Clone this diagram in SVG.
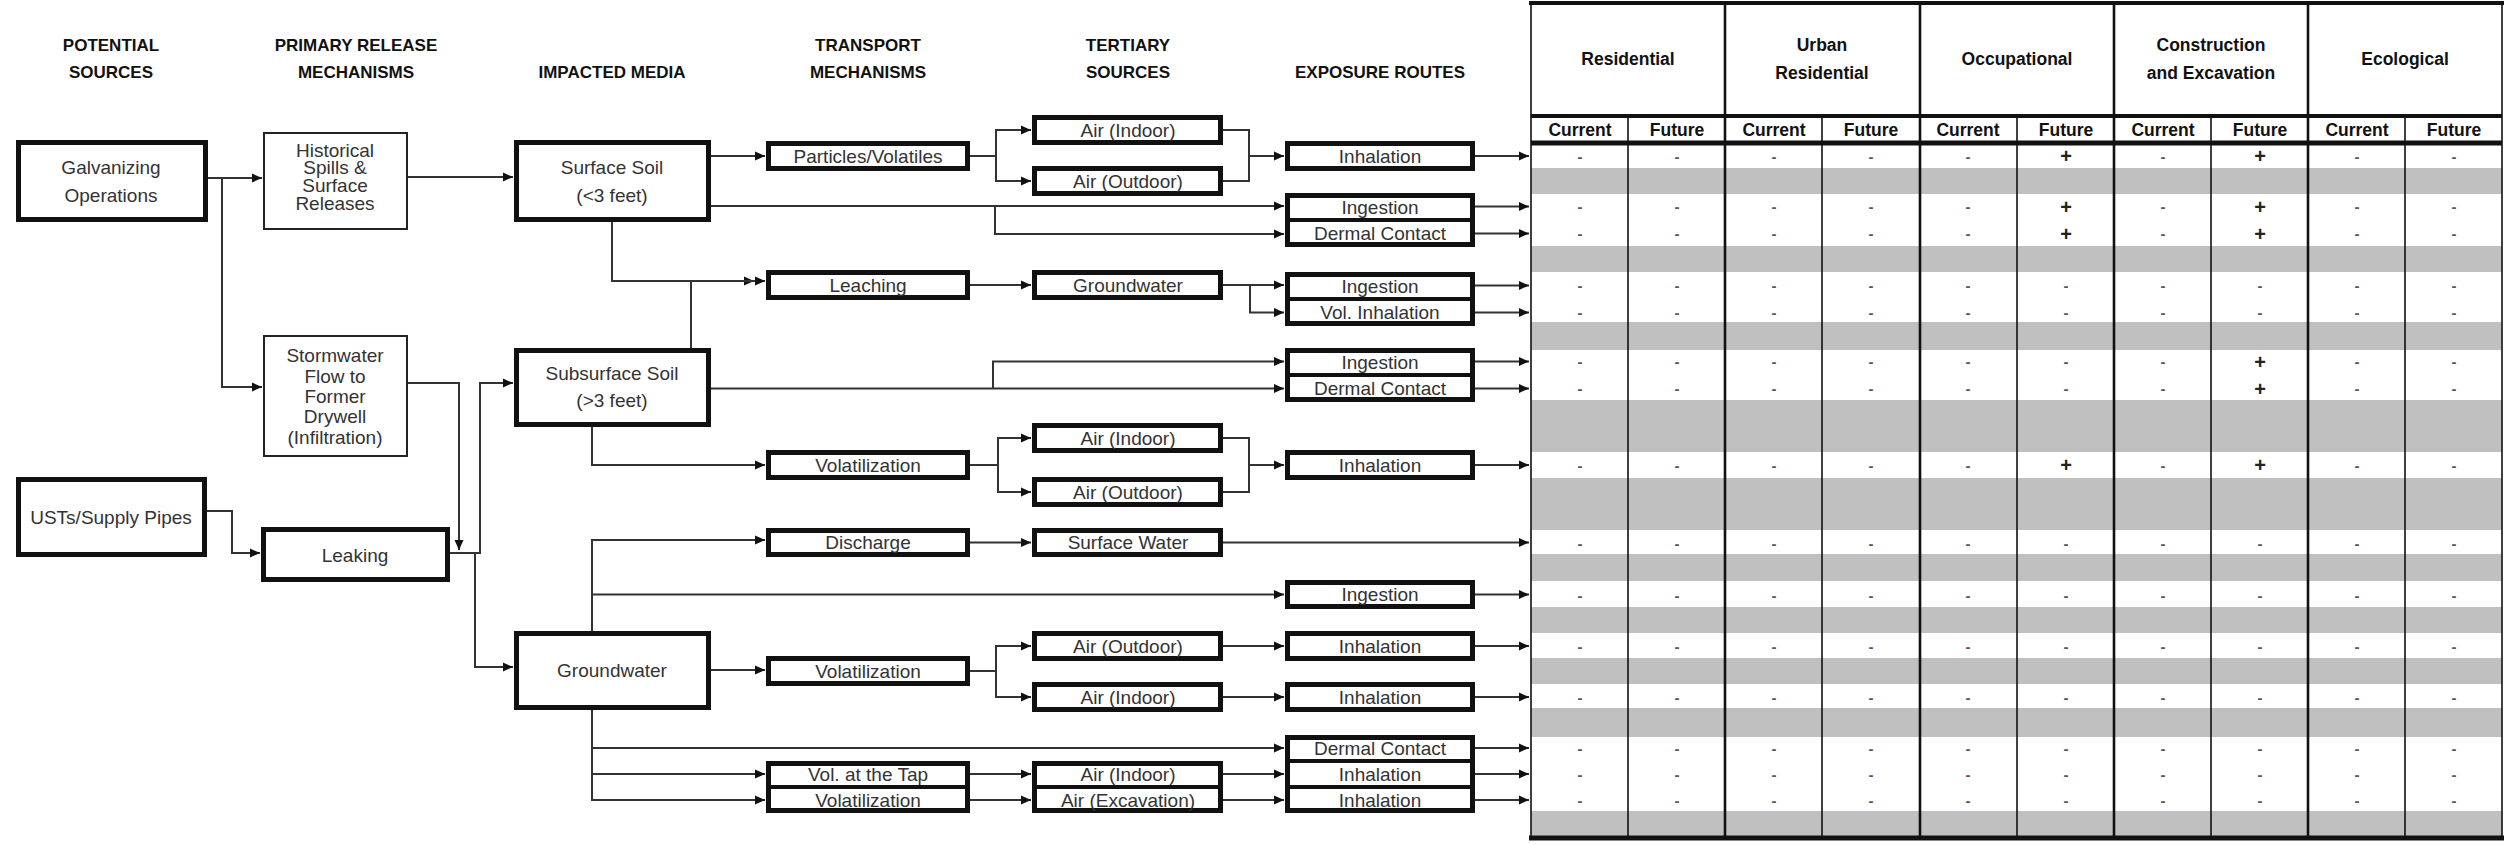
<svg xmlns="http://www.w3.org/2000/svg" width="2515" height="845" viewBox="0 0 2515 845">
<style>
.box{fill:#fff;stroke:#111;stroke-width:5}
.thin{fill:#fff;stroke:#222;stroke-width:2}
.dv{stroke:#111;stroke-width:4}
.t{font-family:"Liberation Sans",Arial,sans-serif;font-size:19px;fill:#333;text-anchor:middle;dominant-baseline:central}
.h{font-family:"Liberation Sans",Arial,sans-serif;font-size:17px;font-weight:bold;fill:#111;text-anchor:middle;dominant-baseline:central}
.th{font-family:"Liberation Sans",Arial,sans-serif;font-size:17.5px;font-weight:bold;fill:#111;text-anchor:middle;dominant-baseline:central}
.c{fill:none;stroke:#333;stroke-width:2}
.a{marker-end:url(#ah)}
.g{fill:#c0c0c0}
.vl{stroke:#111;stroke-width:1.6}
.vg{stroke:#111;stroke-width:2.6}
.m{font-family:"Liberation Sans",Arial,sans-serif;font-size:15px;font-weight:bold;fill:#555;text-anchor:middle;dominant-baseline:central}
.p{font-family:"Liberation Sans",Arial,sans-serif;font-size:20px;font-weight:bold;fill:#222;text-anchor:middle;dominant-baseline:central}
</style>
<defs>
<marker id="ah" markerUnits="userSpaceOnUse" markerWidth="12" markerHeight="10" refX="10" refY="5" orient="auto">
<path d="M0,0.5 L10,5 L0,9.5 Z" fill="#111"/>
</marker>
</defs>
<rect width="2515" height="845" fill="#fff"/>

<g id="headers">
<text class="h" x="111" y="45">POTENTIAL</text><text class="h" x="111" y="72">SOURCES</text>
<text class="h" x="356" y="45">PRIMARY RELEASE</text><text class="h" x="356" y="72">MECHANISMS</text>
<text class="h" x="612" y="72">IMPACTED MEDIA</text>
<text class="h" x="868" y="45">TRANSPORT</text><text class="h" x="868" y="72">MECHANISMS</text>
<text class="h" x="1128" y="45">TERTIARY</text><text class="h" x="1128" y="72">SOURCES</text>
<text class="h" x="1380" y="72">EXPOSURE ROUTES</text>
</g>

<g id="connectors">
<path class="c a" d="M207,178 H262"/>
<path class="c a" d="M222,178 V387 H262"/>
<path class="c a" d="M408,177 H513"/>
<path class="c a" d="M408,383 H459 V550"/>
<path class="c a" d="M206,511 H232 V553 H260"/>
<path class="c a" d="M450,553 H480 V383 H513"/>
<path class="c a" d="M475,553 V667 H513"/>
<path class="c a" d="M711,156 H765"/>
<path class="c a" d="M711,206 H1284"/>
<path class="c a" d="M995,206 V234 H1284"/>
<path class="c a" d="M612,222 V281 H754"/>
<path class="c a" d="M691,348 V281 H765"/>
<path class="c" d="M970,156 H996"/>
<path class="c a" d="M996,156 V130 H1031"/>
<path class="c a" d="M996,156 V181 H1031"/>
<path class="c" d="M1223,130 H1249 V181 H1223"/>
<path class="c a" d="M1249,156 H1284"/>
<path class="c a" d="M970,285 H1031"/>
<path class="c a" d="M1223,285 H1284"/>
<path class="c a" d="M1250,285 V312.5 H1284"/>
<path class="c a" d="M711,388.5 H1284"/>
<path class="c a" d="M993,388.5 V361.5 H1284"/>
<path class="c a" d="M592,427 V465 H765"/>
<path class="c" d="M970,465 H998"/>
<path class="c a" d="M998,465 V438 H1031"/>
<path class="c a" d="M998,465 V492 H1031"/>
<path class="c" d="M1223,438 H1249 V492 H1223"/>
<path class="c a" d="M1249,465 H1284"/>
<path class="c a" d="M592,631 V540 H765"/>
<path class="c a" d="M592,594.5 H1284"/>
<path class="c a" d="M970,542.5 H1031"/>
<path class="c a" d="M1223,542.5 H1529"/>
<path class="c a" d="M711,670 H765"/>
<path class="c" d="M970,671 H996"/>
<path class="c a" d="M996,671 V646 H1031"/>
<path class="c a" d="M996,671 V697 H1031"/>
<path class="c a" d="M1223,646 H1284"/>
<path class="c a" d="M1223,697 H1284"/>
<path class="c a" d="M592,710 V800 H765"/>
<path class="c a" d="M592,748 H1284"/>
<path class="c a" d="M592,774 H765"/>
<path class="c a" d="M970,774 H1031"/>
<path class="c a" d="M970,800 H1031"/>
<path class="c a" d="M1223,774 H1284"/>
<path class="c a" d="M1223,800 H1284"/>
<path class="c a" d="M1475,156 H1529"/>
<path class="c a" d="M1475,206.5 H1529"/>
<path class="c a" d="M1475,233.5 H1529"/>
<path class="c a" d="M1475,285.5 H1529"/>
<path class="c a" d="M1475,312.5 H1529"/>
<path class="c a" d="M1475,361.5 H1529"/>
<path class="c a" d="M1475,388.5 H1529"/>
<path class="c a" d="M1475,465 H1529"/>
<path class="c a" d="M1475,594.5 H1529"/>
<path class="c a" d="M1475,646 H1529"/>
<path class="c a" d="M1475,697 H1529"/>
<path class="c a" d="M1475,748 H1529"/>
<path class="c a" d="M1475,774 H1529"/>
<path class="c a" d="M1475,800 H1529"/>
</g>

<g id="galvanizing"><rect class="box" x="18.5" y="142.5" width="187" height="77"/><text class="t" x="111" y="167">Galvanizing</text><text class="t" x="111" y="195">Operations</text></g>
<g id="historical"><rect class="thin" x="264" y="133" width="143" height="96"/><text class="t" x="335" y="150">Historical</text><text class="t" x="335" y="167.5">Spills &amp;</text><text class="t" x="335" y="185.5">Surface</text><text class="t" x="335" y="203">Releases</text></g>
<g id="stormwater"><rect class="thin" x="264" y="336" width="143" height="120"/><text class="t" x="335" y="355">Stormwater</text><text class="t" x="335" y="376">Flow to</text><text class="t" x="335" y="396">Former</text><text class="t" x="335" y="416">Drywell</text><text class="t" x="335" y="437">(Infiltration)</text></g>
<g id="usts"><rect class="box" x="18.5" y="479.5" width="186" height="75"/><text class="t" x="111" y="517">USTs/Supply Pipes</text></g>
<g id="leaking"><rect class="box" x="263.5" y="529.5" width="184" height="50"/><text class="t" x="355" y="555">Leaking</text></g>
<g id="surface-soil"><rect class="box" x="516.5" y="142.5" width="192" height="77"/><text class="t" x="612" y="167">Surface Soil</text><text class="t" x="612" y="195">(&lt;3 feet)</text></g>
<g id="subsurface-soil"><rect class="box" x="516.5" y="350.5" width="192" height="74"/><text class="t" x="612" y="373">Subsurface Soil</text><text class="t" x="612" y="400">(&gt;3 feet)</text></g>
<g id="groundwater-media"><rect class="box" x="516.5" y="633.5" width="192" height="74"/><text class="t" x="612" y="670">Groundwater</text></g>

<g id="particles"><rect class="box" x="768.5" y="143.5" width="199" height="25"/><text class="t" x="868" y="156">Particles/Volatiles</text></g>
<g id="leaching"><rect class="box" x="768.5" y="272.5" width="199" height="25"/><text class="t" x="868" y="285">Leaching</text></g>
<g id="volatilization-1"><rect class="box" x="768.5" y="452.5" width="199" height="25"/><text class="t" x="868" y="465">Volatilization</text></g>
<g id="discharge"><rect class="box" x="768.5" y="530.5" width="199" height="24"/><text class="t" x="868" y="542.5">Discharge</text></g>
<g id="volatilization-2"><rect class="box" x="768.5" y="658.5" width="199" height="25"/><text class="t" x="868" y="671">Volatilization</text></g>
<g id="tap-volatilization"><rect class="box" x="768.5" y="763.5" width="199" height="47"/><line class="dv" x1="768" y1="787" x2="968" y2="787"/><text class="t" x="868" y="774">Vol. at the Tap</text><text class="t" x="868" y="800">Volatilization</text></g>

<g id="air-indoor-1"><rect class="box" x="1034.5" y="117.5" width="186" height="25"/><text class="t" x="1128" y="130">Air (Indoor)</text></g>
<g id="air-outdoor-1"><rect class="box" x="1034.5" y="168.5" width="186" height="25"/><text class="t" x="1128" y="181">Air (Outdoor)</text></g>
<g id="groundwater-tertiary"><rect class="box" x="1034.5" y="272.5" width="186" height="25"/><text class="t" x="1128" y="285">Groundwater</text></g>
<g id="air-indoor-2"><rect class="box" x="1034.5" y="425.5" width="186" height="25"/><text class="t" x="1128" y="438">Air (Indoor)</text></g>
<g id="air-outdoor-2"><rect class="box" x="1034.5" y="479.5" width="186" height="25"/><text class="t" x="1128" y="492">Air (Outdoor)</text></g>
<g id="surface-water"><rect class="box" x="1034.5" y="530.5" width="186" height="24"/><text class="t" x="1128" y="542.5">Surface Water</text></g>
<g id="air-outdoor-3"><rect class="box" x="1034.5" y="633.5" width="186" height="25"/><text class="t" x="1128" y="646">Air (Outdoor)</text></g>
<g id="air-indoor-3"><rect class="box" x="1034.5" y="684.5" width="186" height="25"/><text class="t" x="1128" y="697">Air (Indoor)</text></g>
<g id="air-tap-excavation"><rect class="box" x="1034.5" y="763.5" width="186" height="47"/><line class="dv" x1="1034" y1="787" x2="1221" y2="787"/><text class="t" x="1128" y="774">Air (Indoor)</text><text class="t" x="1128" y="800">Air (Excavation)</text></g>

<g id="inhalation-1"><rect class="box" x="1287.5" y="143.5" width="185" height="25"/><text class="t" x="1380" y="156">Inhalation</text></g>
<g id="ingestion-dermal-1"><rect class="box" x="1287.5" y="195.5" width="185" height="49"/><line class="dv" x1="1287" y1="220" x2="1473" y2="220"/><text class="t" x="1380" y="207">Ingestion</text><text class="t" x="1380" y="233.5">Dermal Contact</text></g>
<g id="ingestion-volinh"><rect class="box" x="1287.5" y="274.5" width="185" height="49"/><line class="dv" x1="1287" y1="299" x2="1473" y2="299"/><text class="t" x="1380" y="286">Ingestion</text><text class="t" x="1380" y="312.5">Vol. Inhalation</text></g>
<g id="ingestion-dermal-2"><rect class="box" x="1287.5" y="350.5" width="185" height="49"/><line class="dv" x1="1287" y1="375" x2="1473" y2="375"/><text class="t" x="1380" y="362">Ingestion</text><text class="t" x="1380" y="388.5">Dermal Contact</text></g>
<g id="inhalation-2"><rect class="box" x="1287.5" y="452.5" width="185" height="25"/><text class="t" x="1380" y="465">Inhalation</text></g>
<g id="ingestion-3"><rect class="box" x="1287.5" y="582.5" width="185" height="24"/><text class="t" x="1380" y="594.5">Ingestion</text></g>
<g id="inhalation-3"><rect class="box" x="1287.5" y="633.5" width="185" height="25"/><text class="t" x="1380" y="646">Inhalation</text></g>
<g id="inhalation-4"><rect class="box" x="1287.5" y="684.5" width="185" height="25"/><text class="t" x="1380" y="697">Inhalation</text></g>
<g id="dermal-inhalation"><rect class="box" x="1287.5" y="737.5" width="185" height="73"/><line class="dv" x1="1287" y1="761" x2="1473" y2="761"/><line class="dv" x1="1287" y1="787" x2="1473" y2="787"/><text class="t" x="1380" y="748">Dermal Contact</text><text class="t" x="1380" y="774">Inhalation</text><text class="t" x="1380" y="800">Inhalation</text></g>

<g id="table">
<rect x="1531" y="3" width="971" height="835" fill="#fff"/>
<rect class="g" x="1531" y="168" width="971" height="26"/>
<rect class="g" x="1531" y="246" width="971" height="26"/>
<rect class="g" x="1531" y="322" width="971" height="28"/>
<rect class="g" x="1531" y="400" width="971" height="52"/>
<rect class="g" x="1531" y="478" width="971" height="52"/>
<rect class="g" x="1531" y="554" width="971" height="27"/>
<rect class="g" x="1531" y="607" width="971" height="26"/>
<rect class="g" x="1531" y="658" width="971" height="26"/>
<rect class="g" x="1531" y="708" width="971" height="29"/>
<rect class="g" x="1531" y="811" width="971" height="26"/>
<g>
<line class="vl" x1="1628" y1="116" x2="1628" y2="838"/>
<line class="vl" x1="1822" y1="116" x2="1822" y2="838"/>
<line class="vl" x1="2017" y1="116" x2="2017" y2="838"/>
<line class="vl" x1="2211" y1="116" x2="2211" y2="838"/>
<line class="vl" x1="2405" y1="116" x2="2405" y2="838"/>
<line class="vg" x1="1725" y1="3" x2="1725" y2="838"/>
<line class="vg" x1="1920" y1="3" x2="1920" y2="838"/>
<line class="vg" x1="2114" y1="3" x2="2114" y2="838"/>
<line class="vg" x1="2308" y1="3" x2="2308" y2="838"/>
<line class="vl" x1="1531" y1="3" x2="1531" y2="838"/>
<line class="vl" x1="2502" y1="3" x2="2502" y2="838"/>
<line stroke="#111" stroke-width="4" x1="1529" y1="3" x2="2504" y2="3"/>
<line stroke="#111" stroke-width="4" x1="1531" y1="116" x2="2502" y2="116"/>
<line stroke="#111" stroke-width="5" x1="1531" y1="143" x2="2502" y2="143"/>
<line stroke="#111" stroke-width="5" x1="1529" y1="838" x2="2504" y2="838"/>
</g>
<text class="th" x="1628" y="59">Residential</text>
<text class="th" x="1822" y="45">Urban</text><text class="th" x="1822" y="73">Residential</text>
<text class="th" x="2017" y="59">Occupational</text>
<text class="th" x="2211" y="45">Construction</text><text class="th" x="2211" y="73">and Excavation</text>
<text class="th" x="2405" y="59">Ecological</text>
<g class="th">
<text x="1580" y="130">Current</text><text x="1677" y="130">Future</text>
<text x="1774" y="130">Current</text><text x="1871" y="130">Future</text>
<text x="1968" y="130">Current</text><text x="2066" y="130">Future</text>
<text x="2163" y="130">Current</text><text x="2260" y="130">Future</text>
<text x="2357" y="130">Current</text><text x="2454" y="130">Future</text>
</g>
</g>

<g id="table-values">
<g class="m">
<text x="1580" y="156">-</text><text x="1677" y="156">-</text><text x="1774" y="156">-</text><text x="1871" y="156">-</text><text x="1968" y="156">-</text><text x="2163" y="156">-</text><text x="2357" y="156">-</text><text x="2454" y="156">-</text>
<text x="1580" y="206.5">-</text><text x="1677" y="206.5">-</text><text x="1774" y="206.5">-</text><text x="1871" y="206.5">-</text><text x="1968" y="206.5">-</text><text x="2163" y="206.5">-</text><text x="2357" y="206.5">-</text><text x="2454" y="206.5">-</text>
<text x="1580" y="233.5">-</text><text x="1677" y="233.5">-</text><text x="1774" y="233.5">-</text><text x="1871" y="233.5">-</text><text x="1968" y="233.5">-</text><text x="2163" y="233.5">-</text><text x="2357" y="233.5">-</text><text x="2454" y="233.5">-</text>
<text x="1580" y="285.5">-</text><text x="1677" y="285.5">-</text><text x="1774" y="285.5">-</text><text x="1871" y="285.5">-</text><text x="1968" y="285.5">-</text><text x="2066" y="285.5">-</text><text x="2163" y="285.5">-</text><text x="2260" y="285.5">-</text><text x="2357" y="285.5">-</text><text x="2454" y="285.5">-</text>
<text x="1580" y="312.5">-</text><text x="1677" y="312.5">-</text><text x="1774" y="312.5">-</text><text x="1871" y="312.5">-</text><text x="1968" y="312.5">-</text><text x="2066" y="312.5">-</text><text x="2163" y="312.5">-</text><text x="2260" y="312.5">-</text><text x="2357" y="312.5">-</text><text x="2454" y="312.5">-</text>
<text x="1580" y="361.5">-</text><text x="1677" y="361.5">-</text><text x="1774" y="361.5">-</text><text x="1871" y="361.5">-</text><text x="1968" y="361.5">-</text><text x="2066" y="361.5">-</text><text x="2163" y="361.5">-</text><text x="2357" y="361.5">-</text><text x="2454" y="361.5">-</text>
<text x="1580" y="388.5">-</text><text x="1677" y="388.5">-</text><text x="1774" y="388.5">-</text><text x="1871" y="388.5">-</text><text x="1968" y="388.5">-</text><text x="2066" y="388.5">-</text><text x="2163" y="388.5">-</text><text x="2357" y="388.5">-</text><text x="2454" y="388.5">-</text>
<text x="1580" y="465">-</text><text x="1677" y="465">-</text><text x="1774" y="465">-</text><text x="1871" y="465">-</text><text x="1968" y="465">-</text><text x="2163" y="465">-</text><text x="2357" y="465">-</text><text x="2454" y="465">-</text>
<text x="1580" y="543">-</text><text x="1677" y="543">-</text><text x="1774" y="543">-</text><text x="1871" y="543">-</text><text x="1968" y="543">-</text><text x="2066" y="543">-</text><text x="2163" y="543">-</text><text x="2260" y="543">-</text><text x="2357" y="543">-</text><text x="2454" y="543">-</text>
<text x="1580" y="595">-</text><text x="1677" y="595">-</text><text x="1774" y="595">-</text><text x="1871" y="595">-</text><text x="1968" y="595">-</text><text x="2066" y="595">-</text><text x="2163" y="595">-</text><text x="2260" y="595">-</text><text x="2357" y="595">-</text><text x="2454" y="595">-</text>
<text x="1580" y="646">-</text><text x="1677" y="646">-</text><text x="1774" y="646">-</text><text x="1871" y="646">-</text><text x="1968" y="646">-</text><text x="2066" y="646">-</text><text x="2163" y="646">-</text><text x="2260" y="646">-</text><text x="2357" y="646">-</text><text x="2454" y="646">-</text>
<text x="1580" y="697">-</text><text x="1677" y="697">-</text><text x="1774" y="697">-</text><text x="1871" y="697">-</text><text x="1968" y="697">-</text><text x="2066" y="697">-</text><text x="2163" y="697">-</text><text x="2260" y="697">-</text><text x="2357" y="697">-</text><text x="2454" y="697">-</text>
<text x="1580" y="748">-</text><text x="1677" y="748">-</text><text x="1774" y="748">-</text><text x="1871" y="748">-</text><text x="1968" y="748">-</text><text x="2066" y="748">-</text><text x="2163" y="748">-</text><text x="2260" y="748">-</text><text x="2357" y="748">-</text><text x="2454" y="748">-</text>
<text x="1580" y="774">-</text><text x="1677" y="774">-</text><text x="1774" y="774">-</text><text x="1871" y="774">-</text><text x="1968" y="774">-</text><text x="2066" y="774">-</text><text x="2163" y="774">-</text><text x="2260" y="774">-</text><text x="2357" y="774">-</text><text x="2454" y="774">-</text>
<text x="1580" y="800">-</text><text x="1677" y="800">-</text><text x="1774" y="800">-</text><text x="1871" y="800">-</text><text x="1968" y="800">-</text><text x="2066" y="800">-</text><text x="2163" y="800">-</text><text x="2260" y="800">-</text><text x="2357" y="800">-</text><text x="2454" y="800">-</text>
</g>
<g class="p">
<text x="2066" y="156">+</text><text x="2260" y="156">+</text>
<text x="2066" y="206.5">+</text><text x="2260" y="206.5">+</text>
<text x="2066" y="233.5">+</text><text x="2260" y="233.5">+</text>
<text x="2260" y="361.5">+</text>
<text x="2260" y="388.5">+</text>
<text x="2066" y="465">+</text><text x="2260" y="465">+</text>
</g>
</g>
</svg>
